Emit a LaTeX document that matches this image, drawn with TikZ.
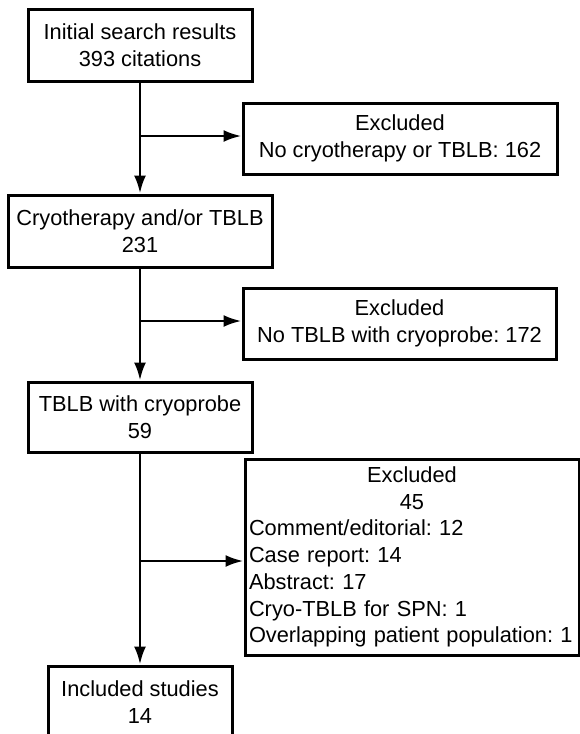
\documentclass[tikz,border=0pt]{standalone}
\usepackage{fontspec}
\setmainfont{Liberation Sans}
\usetikzlibrary{arrows.meta}
\frenchspacing

\begin{document}
\begin{tikzpicture}[
    x=1pt, y=-1pt,
    stage/.style={
        draw,
        line width=3pt,
        align=center,
        inner sep=0pt,
        minimum height=72pt,
        font=\fontsize{21.8}{26.7}\selectfont
    },
    arr/.style={
        line width=2.8pt,
        -{Latex[length=18pt,width=12pt]}
    }
]
\useasboundingbox (0,0) rectangle (579,734);

% Main stages
\node[stage, minimum width=224pt] (init) at (140,45) {Initial search results\\393 citations};
\node[stage, minimum width=264pt] (cryo) at (140,231) {Cryotherapy and/or TBLB\\231};
\node[stage, minimum width=224pt, minimum height=70pt] (tblb) at (140,417) {TBLB with cryoprobe\\59};
\node[stage, minimum width=184pt] (incl) at (140,702) {Included studies\\14};

% Exclusions
\node[stage, minimum width=314pt, minimum height=71pt] (excl1) at (400,138.5) {Excluded\\No cryotherapy or TBLB: 162};
\node[stage, minimum width=313pt, minimum height=71pt] (excl2) at (399.5,323.5) {Excluded\\No TBLB with cryoprobe: 172};
\node[stage, minimum width=334pt, minimum height=196pt, text width=326pt, align=left] (excl3) at (412,557)
    {{\centering Excluded\\45\par}
     Comment/editorial: 12\\
     Case report: 14\\
     Abstract: 17\\
     Cryo-TBLB for SPN: 1\\
     Overlapping patient population: 1};

% Branch points
\coordinate (b1) at (140,136);
\coordinate (b2) at (140,321);
\coordinate (b3) at (140,561);

% Arrows
\draw[arr] (init) -- (cryo);
\draw[arr] (cryo) -- (tblb);
\draw[arr] (tblb) -- (incl);
\draw[arr] (b1) -- (b1 -| excl1.west);
\draw[arr] (b2) -- (b2 -| excl2.west);
\draw[arr] (b3) -- (b3 -| excl3.west);

\end{tikzpicture}
\end{document}
